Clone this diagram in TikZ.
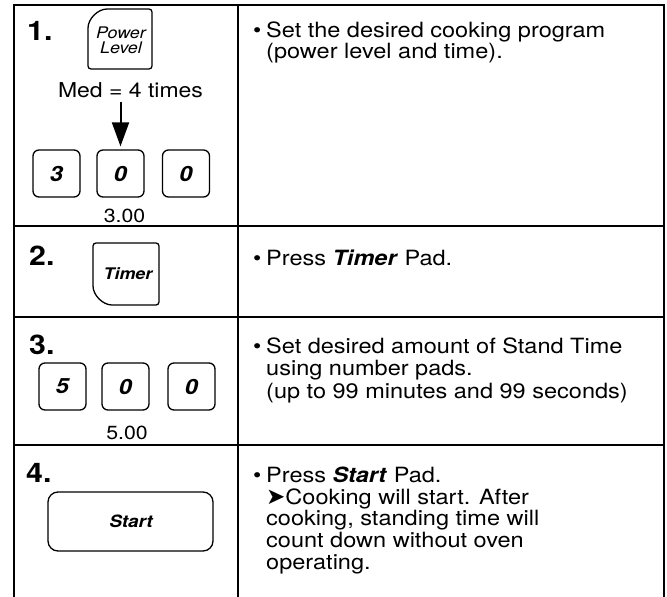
\documentclass[tikz,border=0pt]{standalone}
\usepackage{fontspec}
\setmainfont{TeX Gyre Heros}[FakeStretch=1.12]
\newfontfamily\dingfont{DejaVu Sans}
\usetikzlibrary{arrows.meta}

\tikzset{
    tableline/.style={line width=1.6pt},
    button/.style={line width=1.3pt},
    pad/.style={draw, line width=1.3pt, rounded corners=6pt, minimum width=47pt,
        minimum height=47pt, inner sep=0pt, font=\fontsize{21}{21}\selectfont\bfseries\itshape},
    steplabel/.style={anchor=base west, inner sep=0pt, font=\fontsize{27}{27}\selectfont\bfseries},
    body/.style={anchor=base west, inner sep=0pt, font=\fontsize{21}{21.5}\selectfont},
    readout/.style={anchor=base, inner sep=0pt, font=\fontsize{19}{19}\selectfont},
    padlabel/.style={inner sep=0pt, font=\fontsize{16}{15}\selectfont\itshape},
}

\begin{document}
\begin{tikzpicture}[x=1pt, y=1pt]
    \useasboundingbox (0,0) rectangle (667,-597);

    % table
    \draw[tableline] (14,-597) -- (14,-5) -- (664,-5) -- (664,-597);
    \draw[tableline] (238,-5) -- (238,-597);
    \foreach \y in {226,317,445}
        \draw[tableline] (14,-\y) -- (664,-\y);

    % step 1
    \node[steplabel] (n1) at (27,-40) {1.};
    \draw[button, rounded corners=3pt] (88,-69) -- (88,-31) arc[start angle=180, end angle=90, radius=22]
        -- (152,-9) -- (152,-69) -- cycle;
    \node[padlabel, align=center] (power) at (121,-40) {Power\\Level};
    \node[readout, font=\fontsize{20.5}{20.5}\selectfont] (med) at (130.5,-97) {Med = 4 times};
    \node[pad] (k11) at (56.5,-173.5) {3};
    \node[pad] (k12) at (120.5,-173.5) {0};
    \node[pad] (k13) at (186,-173.5) {0};
    \node[readout] (r1) at (124.5,-222) {3.00};
    \draw[-{Triangle[length=24pt, width=17pt]}, line width=2pt]
        (k12.north |- med.south) ++(0,-4) -- ([yshift=3pt]k12.north);

    \node[body] (b1) at (253,-37) {\textbullet};
    \node[body] (t1) at (266,-37) {\begin{tabular}[t]{@{}l@{}}
        Set the desired cooking program\\(power level and time).\end{tabular}};

    % step 2
    \node[steplabel] (n2) at (29,-265) {2.};
    \draw[button, rounded corners=3pt] (93,-243) -- (93,-283) arc[start angle=180, end angle=270, radius=22]
        -- (159,-305) -- (159,-243) -- cycle;
    \node[padlabel, font=\fontsize{16}{16}\selectfont\bfseries\itshape] (timer) at (128,-274) {Timer};

    \node[body] (b2) at (253,-265) {\textbullet};
    \node[body] (t2) at (266,-265) {Press \textbf{\textit{Timer}} Pad.};

    % step 3
    \node[steplabel] (n3) at (29,-354) {3.};
    \node[pad] (k31) at (62.5,-386.5) {5};
    \node[pad] (k32) at (125.5,-386.5) {0};
    \node[pad] (k33) at (191.5,-386.5) {0};
    \node[readout] (r3) at (127,-439) {5.00};

    \node[body] (b3) at (253,-353) {\textbullet};
    \node[body, font=\fontsize{21}{22.5}\selectfont] (t3) at (266,-353) {\begin{tabular}[t]{@{}l@{}}
        Set desired amount of Stand Time\\using number pads.\\(up to 99 minutes and 99 seconds)\end{tabular}};

    % step 4
    \node[steplabel] (n4) at (26,-482) {4.};
    \draw[button, rounded corners=10pt] (48,-492) rectangle (213,-551);
    \node[padlabel, font=\fontsize{17}{17}\selectfont\bfseries\itshape] (start) at (131,-521) {Start};

    \node[body] (b4) at (253,-482) {\textbullet};
    \node[body] (t4) at (266,-482) {\begin{tabular}[t]{@{}l@{}}
        Press \textbf{\textit{Start}} Pad.\\{\dingfont\fontsize{23}{21.5}\selectfont ➤}Cooking will start. After\\cooking, standing time will\\
        count down without oven\\operating.\end{tabular}};
\end{tikzpicture}
\end{document}
